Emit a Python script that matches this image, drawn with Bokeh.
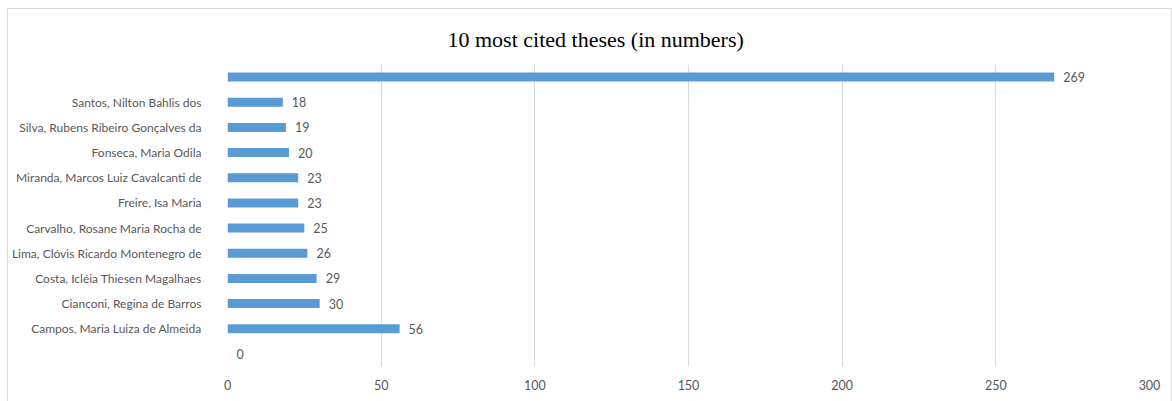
from bokeh.plotting import figure
from bokeh.models import ColumnDataSource, FixedTicker, Range1d
from bokeh.core.properties import value
from bokeh.embed import file_html
from bokeh.resources import INLINE

# Citation counts, listed top to bottom
names = ["", "Santos, Nilton Bahlis dos", "Silva, Rubens Ribeiro Gonçalves da",
         "Fonseca, Maria Odila", "Miranda, Marcos Luiz Cavalcanti de", "Freire, Isa Maria",
         "Carvalho, Rosane Maria Rocha de", "Lima, Clóvis Ricardo Montenegro de",
         "Costa, Icléia Thiesen Magalhaes", "Cianconi, Regina de Barros",
         "Campos, Maria Luiza de Almeida", ""]
citations = [269, 18, 19, 20, 23, 23, 25, 26, 29, 30, 56, 0]
x_ticks = [0, 50, 100, 150, 200, 250, 300]

n = len(names)
ypos = [n - 1 - i for i in range(n)]
src = ColumnDataSource(dict(y=ypos, v=citations, lbl=[str(c) for c in citations]))

FONT = "Lato"
GREY = "#595959"

p = figure(width=1165, height=393, output_backend="svg", toolbar_location=None,
           x_range=Range1d(0, 300), y_range=Range1d(-0.5, n - 0.5),
           min_border_left=219, min_border_right=24, min_border_top=55,
           min_border_bottom=36,
           title="10 most cited theses (in numbers)")
p.styles = {"margin-left": "7px", "margin-top": "8px",
            "border-top": "1px solid #d9d9d9", "border-left": "1px solid #d9d9d9",
            "border-right": "1px solid #d9d9d9"}
p.outline_line_color = None
p.background_fill_color = "white"
p.border_fill_color = "white"

p.title.align = "left"
p.title.offset = 220
p.title.standoff = 26
p.title.text_font = "Liberation Serif"
p.title.text_font_size = "22px"
p.title.text_font_style = "normal"
p.title.text_color = "black"

p.hbar(y="y", left=0, right="v", height=0.36, source=src,
       fill_color="#5b9bd5", line_color=None)
p.text(x="v", y="y", text="lbl", source=src, x_offset=9,
       text_baseline="middle", text_align="left", text_font=value(FONT),
       text_font_size="12.5px", text_color=GREY)

# y axis: names as tick labels
p.yaxis.ticker = FixedTicker(ticks=ypos)
p.yaxis.major_label_overrides = {y: nm for y, nm in zip(ypos, names)}
p.yaxis.axis_line_color = None
p.yaxis.major_tick_line_color = None
p.yaxis.minor_tick_line_color = None
p.yaxis.major_label_standoff = 20
p.yaxis.major_label_text_font = FONT
p.yaxis.major_label_text_font_size = "12px"
p.yaxis.major_label_text_color = GREY
p.ygrid.grid_line_color = None

p.xaxis.ticker = FixedTicker(ticks=x_ticks)
p.xaxis.axis_line_color = None
p.xaxis.major_tick_line_color = None
p.xaxis.minor_tick_line_color = None
p.xaxis.major_label_standoff = 7
p.xaxis.major_label_text_font = FONT
p.xaxis.major_label_text_font_size = "12.5px"
p.xaxis.major_label_text_color = GREY
p.xgrid.ticker = FixedTicker(ticks=x_ticks)
p.xgrid.grid_line_color = "#d9d9d9"
p.xgrid.grid_line_width = 1

open("out.html", "w").write(file_html(p, INLINE))
